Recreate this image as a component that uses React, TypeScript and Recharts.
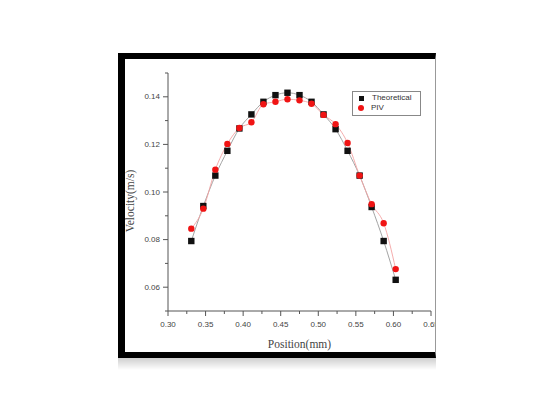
import { ComposedChart, Line, XAxis, YAxis, Label, Legend } from "recharts";

// positions (mm) and velocities (m/s)
const positions = [0.331, 0.347, 0.363, 0.379, 0.395, 0.411, 0.427, 0.443, 0.459, 0.475, 0.491, 0.507, 0.523, 0.539, 0.555, 0.571, 0.587, 0.603];
const theoretical = [0.0794, 0.0941, 0.1069, 0.1173, 0.1267, 0.1326, 0.1379, 0.1407, 0.1417, 0.1407, 0.1379, 0.1326, 0.1264, 0.1173, 0.1069, 0.0937, 0.0794, 0.0631];
const piv = [0.0846, 0.093, 0.1094, 0.1202, 0.1269, 0.1293, 0.1369, 0.1379, 0.139, 0.1385, 0.1371, 0.1324, 0.1285, 0.1206, 0.1069, 0.0949, 0.0869, 0.0676];

const xMajor = [0.3, 0.35, 0.4, 0.45, 0.5, 0.55, 0.6, 0.65];
const xMinor = [0.325, 0.375, 0.425, 0.475, 0.525, 0.575, 0.625];
const yMajor = [0.06, 0.08, 0.1, 0.12, 0.14];
const yMinor = [0.05, 0.07, 0.09, 0.11, 0.13, 0.15];

const xTicks = [...xMajor, ...xMinor].sort((a, b) => a - b);
const yTicks = [...yMajor, ...yMinor].sort((a, b) => a - b);

const rows = positions.map((x, i) => ({ x, theo: theoretical[i], piv: piv[i] }));

const AXIS = "#555";
const TXT = "#444";
const tickFont = "'Liberation Sans', Arial, sans-serif";
const titleFont = "'Liberation Serif', 'Times New Roman', serif";

const isMajor = (v: number, majors: number[]) => majors.some((m) => Math.abs(m - v) < 1e-6);

const makeTick = (side: "left" | "bottom" | "top" | "right") => (props: any) => {
  const { x, y, payload } = props;
  const v = payload.value as number;
  if (side === "left") {
    const major = isMajor(v, yMajor);
    return (
      <g>
        <line x1={x - (major ? 5 : 3)} y1={y} x2={x} y2={y} stroke={AXIS} />
        {major && (
          <text x={x - 8} y={y} textAnchor="end" dominantBaseline="central" fontSize={8} fontFamily={tickFont} fill={TXT}>
            {v.toFixed(2)}
          </text>
        )}
      </g>
    );
  }
  if (side === "bottom") {
    const major = isMajor(v, xMajor);
    return (
      <g>
        <line x1={x} y1={y} x2={x} y2={y + (major ? 5 : 3)} stroke={AXIS} />
        {major && (
          <text x={x} y={y + 13} textAnchor="middle" dominantBaseline="central" fontSize={8} fontFamily={tickFont} fill={TXT}>
            {v.toFixed(2)}
          </text>
        )}
      </g>
    );
  }
  if (side === "top") {
    const major = isMajor(v, xMajor);
    return <line x1={x} y1={y} x2={x} y2={y + (major ? 5 : 3)} stroke={AXIS} />;
  }
  const major = isMajor(v, yMajor);
  return <line x1={x - (major ? 5 : 3)} y1={y} x2={x} y2={y} stroke={AXIS} />;
};

const SquareDot = (p: any) => <rect key={`t${p.index}`} x={p.cx - 3.2} y={p.cy - 3.2} width={6.4} height={6.4} fill="#111" />;
const CircleDot = (p: any) => <circle key={`p${p.index}`} cx={p.cx} cy={p.cy} r={3.2} fill="#f01414" />;

const LegendBox = () => (
  <div
    style={{
      border: "1px solid #888",
      width: 67,
      height: 21,
      fontFamily: tickFont,
      fontSize: 8,
      color: "#333",
      lineHeight: "10px",
      padding: "1px 0",
      boxSizing: "content-box",
    }}
  >
    <div style={{ display: "flex", alignItems: "center", height: 10 }}>
      <span style={{ display: "inline-block", width: 5, height: 5, background: "#111", margin: "0 8px 0 6px" }} />
      Theoretical
    </div>
    <div style={{ display: "flex", alignItems: "center", height: 10 }}>
      <span style={{ display: "inline-block", width: 6, height: 6, borderRadius: 3, background: "#f01414", margin: "0 7px 0 5px" }} />
      PIV
    </div>
  </div>
);

const YTitle = (props: any) => {
  const vb = props.viewBox;
  const cx = 5;
  const cy = vb.y + vb.height / 2 + 9;
  return (
    <text x={cx} y={cy} transform={`rotate(-90 ${cx} ${cy})`} textAnchor="middle" dominantBaseline="central" fontSize={11.5} fontFamily={titleFont} fill={TXT}>
      Velocity(m/s)
    </text>
  );
};

export default function App() {
  return (
    <div style={{ position: "fixed", left: 0, top: 0, width: 553, height: 417, background: "#fff" }}>
      {/* soft shadow under the figure frame */}
      <div
        style={{
          position: "absolute",
          left: 118,
          top: 358,
          width: 318,
          height: 12,
          background: "linear-gradient(#cfcfcf, rgba(255,255,255,0))",
        }}
      />
      <div
        style={{
          position: "absolute",
          left: 118,
          top: 53,
          width: 318,
          height: 305,
          boxSizing: "border-box",
          borderTop: "6px solid #000",
          borderLeft: "7px solid #000",
          borderBottom: "6px solid #000",
          borderRight: "1px solid #999",
          overflow: "hidden",
          background: "#fff",
        }}
      >
        <ComposedChart width={310} height={293} data={rows} margin={{ top: 14, right: 4, bottom: 0, left: 0 }}>
          <XAxis
            dataKey="x"
            type="number"
            domain={[0.3, 0.65]}
            allowDataOverflow
            ticks={xTicks}
            interval={0}
            height={41}
            tickSize={0}
            tickMargin={0}
            tickLine={false}
            stroke={AXIS}
            tick={makeTick("bottom")}
          >
            <Label value="Position(mm)" position="insideBottom" offset={4} fontSize={11.5} fontFamily={titleFont} fill={TXT} />
          </XAxis>
          <XAxis
            xAxisId="top"
            orientation="top"
            type="number"
            dataKey="x"
            domain={[0.3, 0.65]}
            allowDataOverflow
            ticks={xTicks}
            interval={0}
            height={0}
            tickSize={0}
            tickMargin={0}
            tickLine={false}
            stroke={AXIS}
            tick={makeTick("top")}
          />
          <YAxis
            type="number"
            domain={[0.05, 0.15]}
            allowDataOverflow
            ticks={yTicks}
            interval={0}
            width={43}
            tickSize={0}
            tickMargin={0}
            tickLine={false}
            stroke={AXIS}
            tick={makeTick("left")}
          >
            <Label content={YTitle} />
          </YAxis>
          <YAxis
            yAxisId="right"
            orientation="right"
            type="number"
            domain={[0.05, 0.15]}
            allowDataOverflow
            ticks={yTicks}
            interval={0}
            width={0}
            tickSize={0}
            tickMargin={0}
            tickLine={false}
            stroke={AXIS}
            tick={makeTick("right")}
          />
          <Legend layout="vertical" align="center" verticalAlign="middle" content={LegendBox} wrapperStyle={{ left: 227, top: 32, width: 69 }} />
          <Line dataKey="theo" type="monotone" stroke="#9a9a9a" strokeWidth={0.9} dot={SquareDot} activeDot={false} isAnimationActive={false} />
          <Line dataKey="piv" type="monotone" stroke="#f4a4a4" strokeWidth={0.9} dot={CircleDot} activeDot={false} isAnimationActive={false} />
        </ComposedChart>
      </div>
    </div>
  );
}
